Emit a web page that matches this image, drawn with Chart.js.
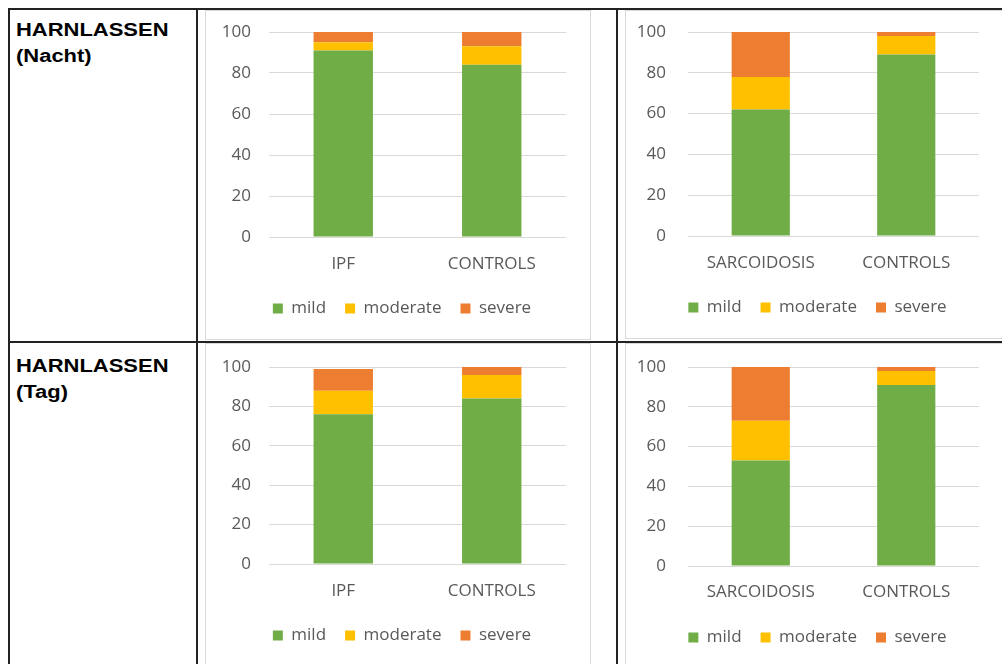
<!DOCTYPE html>
<html>
<head>
<meta charset="utf-8">
<script src="https://cdn.jsdelivr.net/npm/chart.js@4"></script>
<style>
  body { margin: 0; background: #fff; width: 1002px; height: 664px; overflow: hidden; position: relative; font-family: "Liberation Sans", Arial, sans-serif; }
  .line { position: absolute; background: #222; }
  .panel { position: absolute; border: 1px solid #d9d9d9; box-sizing: border-box; }
  .label { position: absolute; left: 16px; font-weight: bold; font-size: 18px; line-height: 26px; color: #000; transform: scaleX(1.22); transform-origin: left top; }
  .box { position: absolute; }
</style>
</head>
<body>
<!-- Tabellenrahmen -->
<div class="line" style="left:8px; top:8px; width:994px; height:2px;"></div>
<div class="line" style="left:8px; top:8px; width:2px; height:656px;"></div>
<div class="line" style="left:196px; top:8px; width:2px; height:656px;"></div>
<div class="line" style="left:616px; top:8px; width:2px; height:656px;"></div>
<div class="line" style="left:8px; top:341px; width:994px; height:2px;"></div>

<div class="panel" style="left:205px; top:10px; width:386px; height:330px;"></div>
<div class="panel" style="left:625px; top:10px; width:390px; height:329px;"></div>
<div class="panel" style="left:205px; top:343px; width:386px; height:340px;"></div>
<div class="panel" style="left:625px; top:343px; width:390px; height:340px;"></div>

<div class="label" style="top:17px;">HARNLASSEN<br>(Nacht)</div>
<div class="label" style="top:353px;">HARNLASSEN<br>(Tag)</div>

<div class="box" style="left:206px; top:10px; width:384px; height:317px;"><canvas id="c1"></canvas></div>
<div class="box" style="left:626px; top:10px; width:376px; height:316px;"><canvas id="c2"></canvas></div>
<div class="box" style="left:206px; top:343px; width:384px; height:311px;"><canvas id="c3"></canvas></div>
<div class="box" style="left:626px; top:343px; width:376px; height:313px;"><canvas id="c4"></canvas></div>

<script>
// Daten
const ipfCategories = ['IPF', 'CONTROLS'];
const sarcCategories = ['SARCOIDOSIS', 'CONTROLS'];
const seriesNames = ['mild', 'moderate', 'severe'];
const yTickValues = [0, 20, 40, 60, 80, 100];

const nachtIpfMild = [91, 84];
const nachtIpfModerate = [4, 9];
const nachtIpfSevere = [5, 7];

const nachtSarcMild = [62, 89];
const nachtSarcModerate = [16, 9];
const nachtSarcSevere = [22, 2];

const tagIpfMild = [76, 84];
const tagIpfModerate = [12, 12];
const tagIpfSevere = [11, 4];

const tagSarcMild = [53, 91];
const tagSarcModerate = [20, 7];
const tagSarcSevere = [27, 2];

const colors = ['#70AD47', '#FFC000', '#ED7D31'];
const textColor = '#595959';
const font = { family: '"Open Sans", sans-serif', size: 17 };

function makeChart(id, labels, mild, moderate, severe, g) {
  const values = [mild, moderate, severe];
  new Chart(document.getElementById(id), {
    type: 'bar',
    data: {
      labels: labels,
      datasets: seriesNames.map((name, i) => ({
        label: name,
        data: values[i],
        backgroundColor: colors[i],
        borderWidth: 0,
        barPercentage: 0.4,
        categoryPercentage: 1
      }))
    },
    options: {
      responsive: true,
      maintainAspectRatio: false,
      animation: false,
      layout: { padding: { left: 0, right: g.right, top: g.top, bottom: 0 } },
      plugins: {
        legend: {
          position: 'bottom',
          labels: { boxWidth: 10, boxHeight: 10, padding: 19, color: textColor, font: font }
        },
        tooltip: { enabled: false }
      },
      scales: {
        x: {
          stacked: true,
          grid: { display: false },
          border: { display: false },
          ticks: { color: textColor, font: font, padding: g.xPad, maxRotation: 0 },
          afterFit: s => { s.height = g.xHeight; }
        },
        y: {
          stacked: true,
          min: 0,
          max: 100,
          afterBuildTicks: s => { s.ticks = yTickValues.map(v => ({ value: v })); },
          grid: { color: '#d9d9d9', lineWidth: 1, drawTicks: false },
          border: { display: false },
          ticks: { color: textColor, font: font, padding: g.yPad },
          afterFit: s => { s.width = g.yWidth; s.paddingTop = 0; s.paddingBottom = 0; }
        }
      }
    },
    plugins: [{
      // Legende etwas nach rechts schieben, wie im Original
      id: 'legendShift',
      afterLayout: chart => {
        chart.legend.left += g.legendShift;
        chart.legend.right += g.legendShift;
      }
    }]
  });
}

makeChart('c1', ipfCategories, nachtIpfMild, nachtIpfModerate, nachtIpfSevere,
  { top: 22, right: 24, yWidth: 63, yPad: 18, xHeight: 44, xPad: 9, legendShift: 16 });
makeChart('c2', sarcCategories, nachtSarcMild, nachtSarcModerate, nachtSarcSevere,
  { top: 22, right: 23, yWidth: 62, yPad: 22, xHeight: 44, xPad: 9, legendShift: 15 });
makeChart('c3', ipfCategories, tagIpfMild, tagIpfModerate, tagIpfSevere,
  { top: 24, right: 24, yWidth: 63, yPad: 18, xHeight: 44, xPad: 9, legendShift: 16 });
makeChart('c4', sarcCategories, tagSarcMild, tagSarcModerate, tagSarcSevere,
  { top: 24, right: 23, yWidth: 62, yPad: 22, xHeight: 44, xPad: 8, legendShift: 15 });
</script>
</body>
</html>
